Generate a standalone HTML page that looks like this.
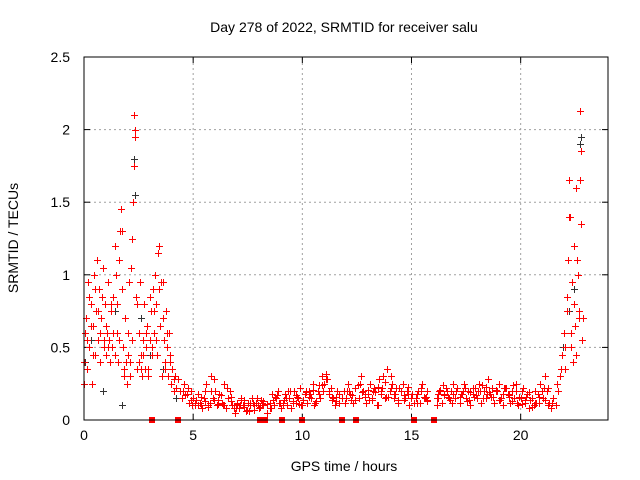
<!DOCTYPE html>
<html><head><meta charset="utf-8">
<style>
html,body{margin:0;padding:0;background:#fff;}
svg{display:block;font-family:"Liberation Sans",sans-serif;}
</style></head>
<body>
<svg id="chart" width="640" height="480">
<text x="344" y="32" text-anchor="middle" font-size="14">Day 278 of 2022, SRMTID for receiver salu</text>
<text x="344" y="471" text-anchor="middle" font-size="14">GPS time / hours</text>
<text transform="translate(18,238) rotate(-90)" text-anchor="middle" font-size="14">SRMTID / TECUs</text>
<g id="grid"></g><g id="ticks"></g><g id="marks"></g>
<rect x="84" y="57" width="524" height="363" fill="none" stroke="#000" stroke-width="1"/>
</svg>
<script>
const xTicks=[0,5,10,15,20];
const yTicks=[0,0.5,1,1.5,2,2.5];
const yTickLabels=["0","0.5","1","1.5","2","2.5"];
const times=[0,.05,.1,.15,.2,.25,.3,.35,.4,.45,.5,.55,.6,.65,.7,.75,.8,.85,.9,.95,1.0,1.05,1.1,1.15,1.2,1.25,1.3,1.35,1.4,1.45,1.5,1.55,1.6,1.65,1.7,1.75,1.8,1.85,1.9,1.95,2.0,2.05,2.1,2.15,2.2,2.25,2.28,2.3,2.32,2.35,2.4,2.45,2.5,2.55,2.6,2.65,2.7,2.75,2.8,2.85,2.9,2.95,3.0,3.05,3.1,3.15,3.2,3.25,3.3,3.35,3.4,3.45,3.5,3.55,3.6,3.65,3.7,3.75,3.8,3.85,3.9,3.95,4.0,4.05,4.1,4.15,4.2,4.3,4.4,4.5,
4.6,4.7,4.8,4.9,5.0,5.1,5.2,5.3,5.4,5.5,5.6,5.7,5.8,5.9,6.0,6.1,6.2,6.3,6.4,6.5,6.6,6.7,6.8,6.9,7.0,7.1,7.2,7.3,7.4,7.5,7.6,7.7,7.8,7.9,8.0,8.1,8.2,8.4,8.5,8.6,8.7,8.8,8.9,9.0,9.1,9.2,9.3,9.4,9.5,9.6,9.7,9.8,9.9,10.0,10.1,10.2,10.3,10.4,10.5,10.6,10.7,10.8,10.9,11.0,11.1,11.2,11.3,11.4,11.5,11.6,11.7,11.9,12.0,12.1,12.2,12.3,12.4,12.6,12.7,12.8,12.9,13.0,13.1,13.2,13.3,13.4,13.5,13.6,13.7,13.8,13.9,14.0,14.1,14.2,14.3,14.4,14.5,14.6,14.7,14.8,14.9,15.0,15.2,15.3,15.4,15.5,15.6,15.7,16.15,16.2,16.2,16.3,16.4,16.5,16.6,16.7,16.8,16.9,17.0,17.1,17.2,17.3,17.4,17.5,17.6,17.7,17.8,17.9,18.0,18.1,18.2,18.3,18.4,18.5,18.6,18.7,18.8,18.9,19.0,19.1,19.2,19.3,19.4,19.5,19.6,19.7,19.8,19.9,20.0,20.1,20.2,20.3,20.4,20.5,20.6,20.7,20.8,20.9,21.0,21.1,21.2,21.3,21.4,21.5,21.6,21.7,21.8,21.9,22.0,22.05,22.1,22.15,22.2,22.25,22.3,22.35,22.4,22.45,22.5,22.55,22.6,22.65,22.7,22.72,22.75,22.8,22.85,
4.55,4.75,4.95,5.15,5.35,5.55,5.75,5.95,6.15,6.35,6.55,6.75,6.95,7.15,7.35,7.55,7.75,7.95,8.15,8.55,8.75,8.95,9.15,9.35,9.55,9.75,9.95,10.15,10.35,10.55,10.75,10.95,11.15,11.35,11.55,12.05,12.25,12.65,12.85,13.05,13.25,13.45,13.65,13.85,14.05,14.25,14.45,14.65,14.85,15.25,15.45,15.65,15.7,16.25,16.45,16.65,16.85,17.05,17.25,17.45,17.65,17.85,18.05,18.25,18.45,18.65,18.85,19.05,19.25,19.45,19.65,19.85,20.05,20.25,20.45,20.65,20.85,21.05,21.25,21.45,21.65,21.85,
0.02,0.12,0.22,0.32,0.42,0.52,0.62,0.72,0.82,0.92,1.02,1.12,1.22,1.32,1.42,1.52,1.62,1.72,1.82,1.92,2.02,2.12,2.22,2.42,2.52,2.62,2.72,2.82,2.92,3.02,3.12,3.22,3.32,3.42,3.52,3.62,3.72,3.82,3.92,4.02,4.12,22.02,22.12,22.22,22.32,22.42,22.52,22.62,22.68,22.78,
4.62,4.77,4.92,5.07,5.22,5.37,5.52,5.67,5.82,5.97,6.12,6.27,6.42,6.57,6.72,6.87,7.02,7.17,7.32,7.47,7.62,7.77,7.92,8.07,8.22,8.37,8.52,8.67,8.82,8.97,9.12,9.27,9.42,9.57,9.72,9.87,10.02,10.17,10.32,10.47,10.62,10.77,10.92,11.07,11.22,11.37,11.52,11.67,11.82,11.97,12.12,12.27,12.42,12.57,12.72,12.87,13.02,13.17,13.32,13.47,13.62,13.77,13.92,14.07,14.22,14.37,14.52,14.67,14.82,14.97,15.12,15.27,15.42,15.57,15.72,16.17,16.32,16.47,16.62,16.77,16.92,17.07,17.22,17.37,17.52,17.67,17.82,17.97,18.12,18.27,18.42,18.57,18.72,18.87,19.02,19.17,19.32,19.47,19.62,19.77,19.92,20.07,20.22,20.37,20.52,20.67,20.82,20.97,21.12,21.27,21.42];
const values=[.25,.6,.7,.35,.95,.5,.8,.25,.65,1.0,.45,.75,1.1,.55,.9,.4,.7,1.05,.5,.8,.45,.6,.95,.55,.4,.75,.5,.85,.45,1.0,.6,.4,1.1,1.3,1.45,.9,.5,.3,.7,.25,.45,.95,.3,1.05,.55,1.5,1.75,2.1,1.95,2.0,.85,.35,.6,.95,.45,.3,.55,.8,.35,.5,.65,.3,.55,.75,.45,.9,.6,1.0,.8,.45,1.15,1.2,.65,.3,.95,.55,.35,.75,.5,.3,.6,.4,.25,.35,.2,.3,.22,.28,.2,.15,
.25,.18,.12,.2,.15,.1,.18,.12,.08,.15,.25,.1,.3,.15,.2,.1,.18,.12,.25,.08,.15,.2,.1,.05,.12,.08,.15,.1,.06,.12,.1,.15,.07,.12,.08,.14,.1,.05,.12,.18,.1,.15,.2,.08,.12,.18,.1,.15,.08,.2,.12,.15,.22,.1,.18,.12,.2,.15,.25,.12,.2,.15,.3,.25,.32,.18,.22,.15,.1,.2,.12,.2,.15,.25,.18,.12,.22,.15,.3,.2,.12,.18,.25,.15,.22,.1,.28,.2,.3,.15,.35,.2,.25,.15,.22,.12,.2,.25,.15,.2,.1,.18,.15,.2,.12,.25,.15,.2,.1,.18,.15,.2,.12,.18,.22,.15,.2,.25,.15,.22,.12,.18,.25,.15,.2,.1,.18,.22,.15,.25,.12,.2,.15,.28,.18,.22,.12,.2,.25,.15,.1,.22,.18,.12,.2,.15,.25,.1,.15,.22,.12,.18,.08,.15,.1,.12,.18,.25,.15,.3,.2,.12,.08,.15,.1,.2,.3,.45,.6,.35,.75,1.1,1.65,1.4,.5,.95,.4,1.2,.65,1.6,1.1,.7,1.65,2.13,1.35,.55,.7,
.2,.22,.1,.14,.1,.2,.12,.28,.14,.1,.22,.16,.08,.1,.14,.06,.12,.1,.12,.08,.16,.12,.14,.2,.12,.16,.1,.2,.18,.1,.24,.2,.28,.14,.16,.2,.14,.25,.18,.14,.2,.1,.22,.16,.3,.18,.22,.14,.18,.12,.22,.16,.14,.2,.24,.16,.12,.2,.18,.22,.14,.16,.2,.24,.18,.16,.2,.14,.22,.16,.24,.12,.2,.16,.14,.2,.12,.22,.1,.12,.25,.35,
.4,.55,.85,.65,.45,.9,.75,.6,.85,.55,.65,.5,.8,.6,1.2,.8,.55,1.3,.35,.4,.6,.4,1.25,.8,.4,.35,.45,.6,.35,.85,.5,.75,.55,.9,.95,.7,.4,.6,.45,.35,.28,.5,.85,1.4,.6,.8,.45,1.0,.75,1.85,
.17,.22,.14,.12,.1,.16,.13,.09,.2,.14,.11,.17,.1,.22,.13,.08,.11,.14,.09,.07,.12,.1,.15,.09,.13,.11,.08,.14,.17,.12,.1,.15,.2,.13,.17,.11,.14,.19,.16,.21,.13,.18,.24,.28,.2,.16,.13,.18,.15,.12,.2,.17,.14,.24,.19,.16,.21,.14,.19,.23,.18,.26,.16,.22,.18,.14,.2,.17,.23,.15,.12,.18,.2,.16,.13,.15,.21,.17,.2,.14,.18,.22,.16,.2,.13,.19,.22,.17,.2,.15,.23,.19,.16,.21,.14,.18,.22,.17,.13,.2,.16,.11,.14,.19,.09,.12,.16,.2,.14,.22,.12];
const zeroTimes=[3.1,4.3,8.05,8.3,9.05,10.0,11.8,12.45,15.1,16.05];
const darkTimes=[0.05,0.3,0.85,1.4,1.75,2.3,2.33,2.6,3.0,3.6,4.2,21.95,22.2,22.45,22.72,22.75];
const darkValues=[0.4,0.55,0.2,0.75,0.1,1.8,1.55,0.7,0.45,0.35,0.15,0.5,0.75,0.9,1.9,1.95];

const NS="http://www.w3.org/2000/svg";
const X0=84,X1=608,Y0=420,Y1=57,XMAX=24,YMAX=2.5;
function sx(t){return X0+(t/XMAX)*(X1-X0);}
function sy(v){return Y0-(v/YMAX)*(Y0-Y1);}
function mk(tag,attrs,parent){const e=document.createElementNS(NS,tag);for(const k in attrs)e.setAttribute(k,attrs[k]);parent.appendChild(e);return e;}
const grid=document.getElementById('grid'),ticks=document.getElementById('ticks'),marks=document.getElementById('marks');
xTicks.forEach(t=>{
  const x=sx(t);
  if(t>0){const g=mk('line',{x1:x,x2:x,y1:Y0,y2:Y1,stroke:'#a0a0a0','stroke-dasharray':'2,3'},grid);
  
  }
  const a=mk('line',{x1:x,x2:x,y1:Y0,y2:Y0-6,stroke:'#000'},ticks);
  
  
  const b=mk('line',{x1:x,x2:x,y1:Y1,y2:Y1+6,stroke:'#000'},ticks);
  
  
  const l=mk('text',{x:x,y:Y0+20,'text-anchor':'middle','font-size':'14'},ticks);
  l.textContent=String(t);
  
  
});
yTicks.forEach((v,i)=>{
  const y=sy(v);
  if(v>0&&v<YMAX){const g=mk('line',{x1:X0,x2:X1,y1:y,y2:y,stroke:'#a0a0a0','stroke-dasharray':'2,3'},grid);
  
  }
  const a=mk('line',{x1:X0,x2:X0+6,y1:y,y2:y,stroke:'#000'},ticks);
  
  
  const b=mk('line',{x1:X1,x2:X1-6,y1:y,y2:y,stroke:'#000'},ticks);
  
  
  const l=mk('text',{x:X0-14,y:y+5,'text-anchor':'end','font-size':'14'},ticks);
  l.textContent=yTickLabels[i];
  
  
});
function plus(t,v,color,name){
  const x=Math.round(sx(t))+0.5,y=Math.round(sy(v))+0.5;
  const p=mk('path',{d:`M${x-3.5} ${y}H${x+3.5}M${x} ${y-3.5}V${y+3.5}`,stroke:color,'stroke-width':'1',fill:'none'},marks);
  
  
}
darkTimes.forEach((t,i)=>plus(t,darkValues[i],'#333','srmtid-point-dark'));
times.forEach((t,i)=>{if(values[i]!==undefined)plus(t,values[i],'#ff0000','srmtid-point');});
zeroTimes.forEach(t=>{
  const r=mk('rect',{x:Math.round(sx(t))-3,y:Y0-3,width:6,height:6,fill:'#ff0000'},marks);
  
  
});
</script>
</body></html>
